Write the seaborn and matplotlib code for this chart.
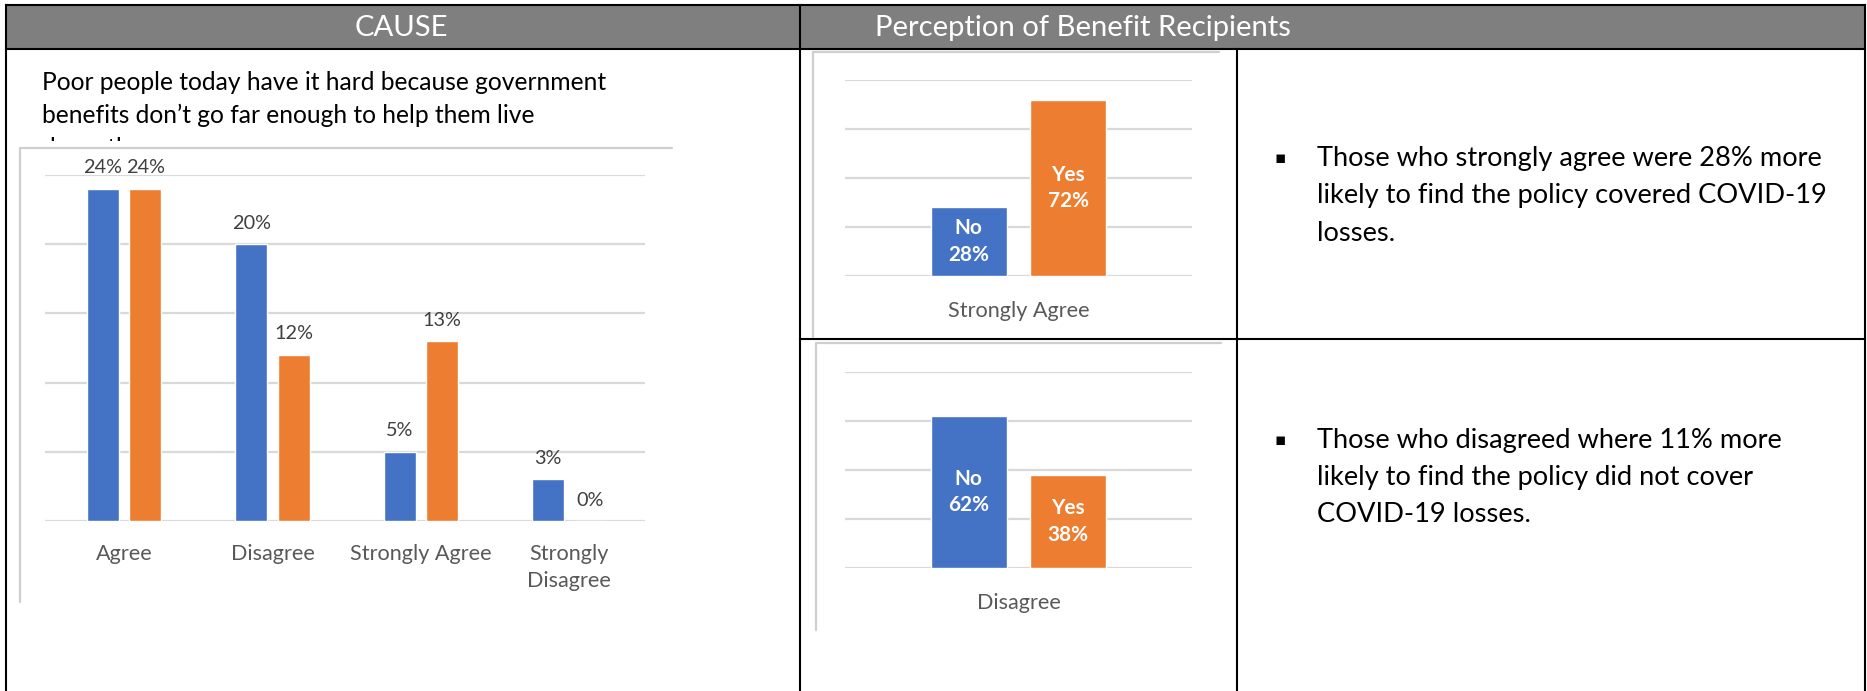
import matplotlib
matplotlib.use("Agg")
import matplotlib.pyplot as plt
from matplotlib.patches import Rectangle
import pandas as pd
import seaborn as sns

# ---- data -------------------------------------------------------------
responses = ["Agree", "Disagree", "Strongly Agree", "Strongly\nDisagree"]
covered_levels = ["No", "Yes"]
no_pct = [24, 20, 5, 3]
yes_pct = [24, 12, 13, 0]

split_groups = ["Strongly Agree", "Disagree"]
split_no = [28, 62]
split_yes = [72, 38]

header_left = "CAUSE"
header_right = "Perception of Benefit Recipients"
question_lines = [
    "Poor people today have it hard because government",
    "benefits don\u2019t go far enough to help them live",
    "decently.",
]
bullet_texts = [
    ["Those who strongly agree were 28% more",
     "likely to find the policy covered COVID-19",
     "losses."],
    ["Those who disagreed where 11% more",
     "likely to find the policy did not cover",
     "COVID-19 losses."],
]

# ---- style ------------------------------------------------------------
BLUE = "#4472C4"
ORANGE = "#ED7D31"
GRID = "#d9d9d9"
LABEL = "#595959"
VALUE = "#404040"
FRAME = "#cfcfcf"

sns.set_theme(style="white")
plt.rcParams["font.family"] = ["Lato", "DejaVu Sans"]

W, H = 1867, 691
fig = plt.figure(figsize=(W / 100, H / 100), dpi=100)
renderer = fig.canvas.get_renderer()

# full-figure canvas in pixel units for the table frame and body text
base = fig.add_axes([0, 0, 1, 1])
base.set_xlim(0, W)
base.set_ylim(H, 0)
base.axis("off")


def fitted_size(text, width_px, **kw):
    """Font size (pt) at which `text` spans width_px pixels."""
    t = base.text(0, 0, text, fontsize=10, **kw)
    w = t.get_window_extent(renderer).width
    t.remove()
    return 10 * width_px / w


def px_axes(left, top, right, bottom):
    ax = fig.add_axes([left / W, 1 - bottom / H, (right - left) / W, (bottom - top) / H])
    ax.patch.set_alpha(0)
    return ax


# ---- table frame --------------------------------------------------------
LW = 1.5
base.add_patch(Rectangle((6, 5), 1859, 44, facecolor="#7f7f7f", edgecolor="none", zorder=1))
for x0, y0, x1, y1 in [
    (6, 5, 1865, 5), (6, 49, 1865, 49),
    (6, 5, 6, H), (1865, 5, 1865, H),
    (800, 5, 800, H), (1237, 49, 1237, H),
    (800, 339, 1865, 339),
]:
    base.plot([x0, x1], [y0, y1], color="black", lw=LW, solid_capstyle="projecting", zorder=5)

head_fs = fitted_size(header_right, 417)
base.text(401, 28, header_left, fontsize=head_fs, color="white", ha="center", va="center", zorder=6)
base.text(875, 28, header_right, fontsize=head_fs, color="white", ha="left", va="center", zorder=6)

# ---- question text in the left cell --------------------------------------
body_fs = fitted_size(question_lines[0], 567)
for i, line in enumerate(question_lines):
    base.text(42, 82 + 33 * i, line, fontsize=body_fs, color="black", ha="left", va="center", zorder=2)

# pasted chart pictures: white background with a light frame on top/left
for l, t, r, b, frame_y in [(20, 141, 672, 602, 148), (813, 50, 1219, 337, 52),
                            (816, 341, 1221, 630, 343)]:
    base.add_patch(Rectangle((l, t), r - l, b - t, facecolor="white", edgecolor="none", zorder=3))
    base.plot([l, r], [frame_y, frame_y], color=FRAME, lw=1.6, zorder=4)
    base.plot([l, l], [frame_y, b], color=FRAME, lw=1.6, zorder=4)

# ---- bullet text in the right cells -----------------------------------
bullet_fs = fitted_size(bullet_texts[0][0], 507)
for lines, y0 in zip(bullet_texts, [158, 440]):
    base.text(1280, y0, "\u25aa", fontsize=bullet_fs * 0.62, family="DejaVu Sans",
              ha="center", va="center", color="black", zorder=2)
    for i, line in enumerate(lines):
        base.text(1317, y0 + 37.5 * i, line, fontsize=bullet_fs, color="black",
                  ha="left", va="center", zorder=2)

# ---- chart fonts ----------------------------------------------------------
cat_fs = fitted_size("Strongly Agree", 141)
val_fs = fitted_size("20%", 39)
inner_fs = fitted_size("72%", 41, fontweight="bold")


def style_chart(ax, ymax, step, pad_pt):
    ax.set_ylim(0, ymax)
    ax.set_yticks(range(0, ymax + 1, step))
    ax.grid(axis="y", color=GRID, lw=1.6)
    ax.grid(axis="x", visible=False)
    ax.set_axisbelow(True)
    ax.tick_params(axis="y", left=False, labelleft=False)
    ax.tick_params(axis="x", length=0, pad=pad_pt, labelsize=cat_fs, labelcolor=LABEL)
    for lab in ax.get_xticklabels():
        lab.set_linespacing(1.45)
    ax.set_xlabel("")
    ax.set_ylabel("")
    sns.despine(ax=ax, left=True, bottom=True)


# ---- left chart: all responses --------------------------------------------
df_all = pd.DataFrame({
    "response": responses * 2,
    "covered": ["No"] * len(responses) + ["Yes"] * len(responses),
    "share": no_pct + yes_pct,
})
ax = px_axes(45, 175, 645, 521)
sns.barplot(data=df_all, x="response", y="share", hue="covered", order=responses,
            hue_order=covered_levels, palette=[BLUE, ORANGE], width=0.57, gap=0.25,
            saturation=1, legend=False, ax=ax)
ax.set_xlim(-0.533, 3.51)
style_chart(ax, 25, 5, 16.5)
for cont in ax.containers:
    ax.bar_label(cont, labels=[f"{b.get_height():g}%" for b in cont],
                 padding=9, fontsize=val_fs, color=VALUE)

# ---- right charts: split within one response ---------------------------
for grp, no_v, yes_v, (top, bottom) in zip(split_groups, split_no, split_yes,
                                             [(80, 276), (372, 568)]):
    df_one = pd.DataFrame({"response": [grp, grp], "covered": covered_levels,
                           "share": [no_v, yes_v]})
    axr = px_axes(845, top, 1192, bottom)
    sns.barplot(data=df_one, x="response", y="share", hue="covered",
                hue_order=covered_levels, palette=[BLUE, ORANGE], width=0.573, gap=0.236,
                saturation=1, legend=False, ax=axr)
    axr.set_xlim(-0.5, 0.5)
    style_chart(axr, 80, 20, 18)
    for cont, name in zip(axr.containers, covered_levels):
        axr.bar_label(cont, labels=[f"{name}\n{b.get_height():g}%" for b in cont],
                      label_type="center", fontsize=inner_fs, fontweight="bold",
                      color="white", linespacing=1.4)

fig.savefig("out.png", dpi=100, facecolor="white")
